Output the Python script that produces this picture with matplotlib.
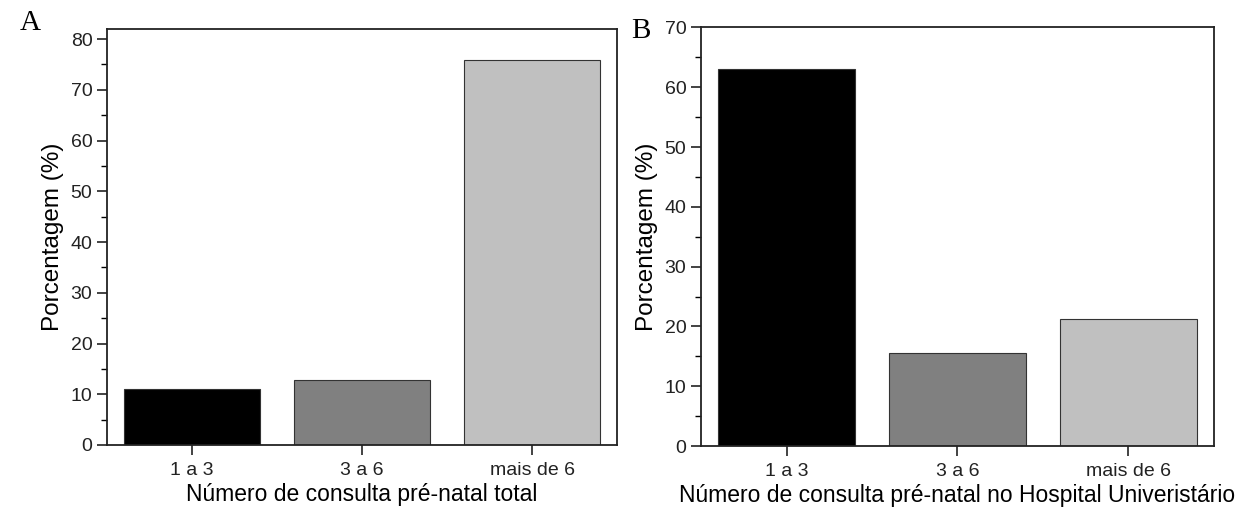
import matplotlib
matplotlib.use("Agg")
import matplotlib.pyplot as plt
from matplotlib.ticker import MultipleLocator

categories = ["1 a 3", "3 a 6", "mais de 6"]
total_pct = [11.0, 12.9, 75.9]
hu_pct = [63.0, 15.6, 21.2]
bar_colors = ["#000000", "#808080", "#c0c0c0"]

plt.rcParams["font.family"] = ["Liberation Sans", "DejaVu Sans"]

fig = plt.figure(figsize=(12.41, 5.12), dpi=100)
axA = fig.add_axes([0.0862, 0.1309, 0.4110, 0.8125])
axB = fig.add_axes([0.5649, 0.1289, 0.4133, 0.8174])


def draw_panel(ax, values, ymax, xlabel):
    x = range(1, len(categories) + 1)
    ax.bar(x, values, width=0.8, color=bar_colors, edgecolor="#333333", linewidth=0.8)
    ax.set_xlim(0.5, 3.5)
    ax.set_ylim(0, ymax)
    ax.set_xticks(list(x))
    ax.set_xticklabels(categories)
    ax.yaxis.set_major_locator(MultipleLocator(10))
    ax.yaxis.set_minor_locator(MultipleLocator(5))
    ax.tick_params(axis="both", which="major", direction="out", length=7, width=1.2, labelsize=14, colors="#222222")
    ax.tick_params(axis="y", which="minor", direction="out", length=4, width=1.0)
    ax.tick_params(axis="x", which="major", pad=5)
    for s in ax.spines.values():
        s.set_linewidth(1.3)
        s.set_color("#222222")
    ax.set_ylabel("Porcentagem (%)", fontsize=17.5, labelpad=5)
    ax.set_xlabel(xlabel, fontsize=16.5, labelpad=3)


draw_panel(axA, total_pct, 82, "Número de consulta pré-natal total")
draw_panel(axB, hu_pct, 70, "Número de consulta pré-natal no Hospital Univeristário")

fig.text(0.016, 0.955, "A", family="Liberation Serif", fontsize=21, va="center", ha="left")
fig.text(0.509, 0.94, "B", family="Liberation Serif", fontsize=21, va="center", ha="left")

fig.savefig("out.png", dpi=100)
